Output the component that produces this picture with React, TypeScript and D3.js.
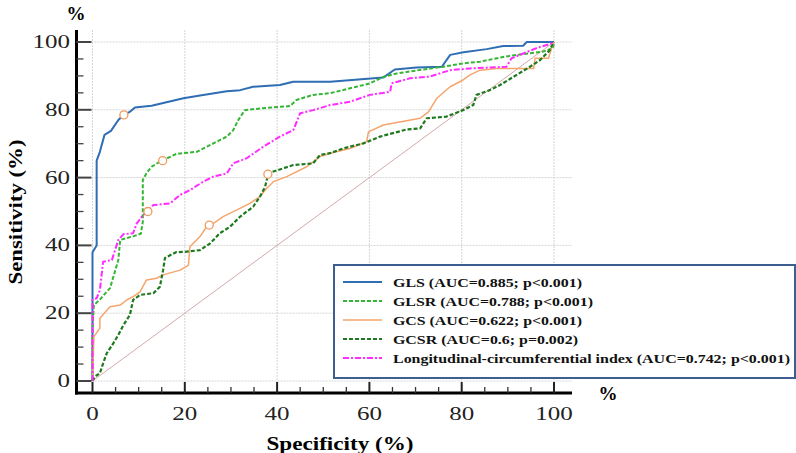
import React from "react";
import * as d3 from "d3";

type Pt = [number, number];

const GLS: Pt[] = [[0,0],[0,38],[0.9,40],[0.9,65],[1.6,67.6],[2.6,72.6],[4,73.8],[5.6,77],[6.9,78.7],[8.1,79.4],[9.2,80.7],[12.8,81.2],[19.7,83.4],[23.3,84.2],[29.1,85.5],[32,85.8],[34.8,86.8],[40.6,87.3],[43.5,88.3],[51.5,88.3],[63,89.5],[65.5,91.9],[70.2,92.5],[75.7,92.7],[77.5,96.2],[80.4,97],[85.4,97.9],[89,98.8],[93.3,98.9],[94.1,100],[100,100]];

const GLSR: Pt[] = [[0,0],[0,15.6],[0.3,22.4],[1.6,24],[3.8,27.4],[5.6,35.7],[6,41.6],[9.6,43],[10.5,43.5],[10.9,47],[10.9,59.3],[11.7,61.3],[12.8,63.2],[14.6,64.7],[18.2,67],[22.6,67.6],[26.2,70.1],[29.1,72.1],[30.5,74],[31.6,77],[33,79.9],[36.3,80.4],[42.8,81.1],[44.2,82.9],[47.8,84.4],[51.5,84.9],[57.2,86.8],[60.1,87.8],[63,89.7],[65.9,90.7],[71.7,91.9],[76,92.7],[80.3,93.7],[84,94.2],[89,95.6],[91.9,96.2],[97.7,97.2],[99.8,98.2],[100,100]];

const GCS: Pt[] = [[0,0],[0.3,13.1],[1.6,15.6],[1.6,18.5],[3.8,21.9],[6,22.4],[7.4,23.9],[8.8,24.9],[10.3,26.3],[11.7,29.8],[13.9,30.3],[15.3,31.3],[19,32.7],[20.8,34.2],[21.1,39.6],[23.3,42.6],[24.7,45.5],[26.2,46.5],[28.3,48.5],[31.2,50.4],[34.1,52.4],[36.3,54.4],[37.7,56.8],[39.2,58.8],[42.1,60.3],[46.4,63.2],[49.3,66.2],[51.5,67.2],[55.8,68.6],[59.4,70.6],[59.8,73.5],[63,75.5],[71,77.5],[72.8,79.4],[74.6,83.4],[77.5,86.8],[80.3,88.8],[81.8,90.3],[84,91.7],[87.6,92.2],[95.6,92.2],[95.9,95.2],[98.8,95.2],[99.5,98.2],[100,100]];

const GCSR: Pt[] = [[0,0],[0.5,1.3],[1.6,2.3],[2.3,5.2],[3.1,8.2],[4.5,11.1],[5.6,13.6],[6.7,16.5],[8.1,19.5],[8.8,23.9],[10.3,25.4],[13.2,25.9],[14.6,27.8],[15.3,32.7],[15.7,36.3],[18.1,38],[20,38.1],[23.3,38.6],[25.5,40.6],[27.6,43.6],[29.8,45.5],[32,48.5],[34.8,51.4],[36.3,54.4],[37.4,57.3],[38.1,61.3],[43.5,63.7],[47.8,64.2],[49.3,66.7],[51.5,67.2],[54.3,68.6],[58.7,70.1],[62.3,72.1],[68.1,74.2],[71,74.5],[72.4,77.5],[76.7,78],[80.3,79.9],[82.5,81.4],[83.2,84.4],[86.1,85.8],[88.3,87.3],[91.9,90.3],[94.8,92.7],[97,94.7],[99.1,97.6],[99.8,99.7],[100,100]];

const LCI: Pt[] = [[0,0],[0,24],[0.9,24.4],[1.6,26.8],[2.3,35.2],[4.2,35.7],[5.6,41.6],[6.7,43.3],[8.8,43.6],[9.6,46.5],[11,49],[12.1,50.4],[13.2,51.9],[16.8,52.4],[19,54.9],[21.1,56.3],[24,58.8],[26.2,60.3],[29.1,61.2],[30.5,64.2],[33.4,65.7],[37,69.1],[40.6,72.1],[43.5,74],[45,79],[47.8,79.9],[51.5,81.4],[55.8,82.4],[60.1,84.4],[64.5,85.3],[64.8,87.8],[68.8,89.3],[73.1,89.8],[77.5,91.7],[81.8,92.2],[89.7,92.7],[90.8,95.2],[92.6,96.2],[96.2,98.2],[99.8,99.7],[100,100]];

const CUTOFFS: Pt[] = [[6.8,78.5],[15.2,65],[12,50],[25.3,46],[38,61]];

const LABELS = [
  "GLS (AUC=0.885; p<0.001)",
  "GLSR (AUC=0.788; p<0.001)",
  "GCS (AUC=0.622; p<0.001)",
  "GCSR (AUC=0.6; p=0.002)",
  "Longitudinal-circumferential index (AUC=0.742; p<0.001)",
];

const MAJOR_TICKS = [0, 20, 40, 60, 80, 100];
const MINOR_TICKS = d3.range(0, 101, 5).filter((v) => v % 20 !== 0);

const SERIES = [
  { data: GLS, color: "#2f6db4", width: 2, dash: "" },
  { data: GLSR, color: "#35b535", width: 2, dash: "4,2" },
  { data: GCS, color: "#f5a56c", width: 1.5, dash: "" },
  { data: GCSR, color: "#1f7a1f", width: 2.2, dash: "4,2" },
  { data: LCI, color: "#ff2bff", width: 2, dash: "6,2,2,2" },
];
const LEGEND_LEN = [189, 200, 189, 185, 397];

export default function App() {
  const x = d3.scaleLinear().domain([0, 100]).range([92.5, 554]);
  const y = d3.scaleLinear().domain([0, 100]).range([381, 42]);
  const line = d3.line<Pt>().x((d) => x(d[0])).y((d) => y(d[1]));
  const serif = "'Liberation Serif', 'Times New Roman', serif";
  const axisX = 76.5;
  const axisY = 393;
  const right = 572;
  const top = 30;

  return (
    <svg width={796} height={453} style={{ position: "absolute", left: 0, top: 0, background: "#fff" }} fontFamily={serif}>
      <rect x={0} y={0} width={796} height={453} fill="#fff" />
      {/* grid */}
      {MAJOR_TICKS.map((t) => (
        <line key={"gx" + t} x1={x(t)} x2={x(t)} y1={top} y2={axisY} stroke="#d6d6d6" strokeWidth={1} strokeDasharray="2,1" />
      ))}
      {MAJOR_TICKS.map((t) => (
        <line key={"gy" + t} x1={axisX} x2={right} y1={y(t)} y2={y(t)} stroke="#d6d6d6" strokeWidth={1} strokeDasharray="2,1" />
      ))}
      {/* diagonal */}
      <line x1={x(0)} y1={y(0)} x2={x(100)} y2={y(100)} stroke="#d4a9a9" strokeWidth={1} />
      {/* curves */}
      {SERIES.map((s, i) => (
        <path key={"s" + i} d={line(s.data) || ""} fill="none" stroke={s.color} strokeWidth={s.width} strokeDasharray={s.dash} strokeLinejoin="round" />
      ))}
      {CUTOFFS.map((c, i) => (
        <circle key={"c" + i} cx={x(c[0])} cy={y(c[1])} r={4} fill="#fff" stroke="#f09a5e" strokeWidth={1.3} />
      ))}
      {/* axes */}
      <line x1={axisX} x2={axisX} y1={top} y2={axisY + 1.5} stroke="#000" strokeWidth={3} />
      <line x1={axisX - 1.5} x2={right} y1={axisY} y2={axisY} stroke="#000" strokeWidth={3} />
      {MAJOR_TICKS.map((t) => (
        <line key={"ty" + t} x1={axisX} x2={axisX + 15} y1={y(t)} y2={y(t)} stroke="#444" strokeWidth={2} />
      ))}
      {MINOR_TICKS.map((t) => (
        <line key={"tym" + t} x1={axisX} x2={axisX + 7} y1={y(t)} y2={y(t)} stroke="#444" strokeWidth={1.3} />
      ))}
      {MAJOR_TICKS.map((t) => (
        <line key={"tx" + t} x1={x(t)} x2={x(t)} y1={axisY} y2={axisY - 11} stroke="#222" strokeWidth={2} />
      ))}
      {MINOR_TICKS.map((t) => (
        <line key={"txm" + t} x1={x(t)} x2={x(t)} y1={axisY} y2={axisY - 6} stroke="#333" strokeWidth={1.3} />
      ))}
      {MAJOR_TICKS.map((t) => (
        <text key={"ly" + t} x={70} y={y(t) + 6} textAnchor="end" fontSize={18} fill="#222" textLength={String(t).length * 12.5} lengthAdjust="spacingAndGlyphs">{t}</text>
      ))}
      {MAJOR_TICKS.map((t) => (
        <text key={"lx" + t} x={x(t)} y={420} textAnchor="middle" fontSize={18} fill="#222" textLength={String(t).length * 12.5} lengthAdjust="spacingAndGlyphs">{t}</text>
      ))}
      {/* axis titles */}
      <text x={76} y={20} textAnchor="middle" fontSize={19} fontWeight="bold">%</text>
      <text x={608} y={400} textAnchor="middle" fontSize={19} fontWeight="bold">%</text>
      <text x={340} y={450} textAnchor="middle" fontSize={19} fontWeight="bold" textLength={147} lengthAdjust="spacingAndGlyphs">Specificity (%)</text>
      <text transform="translate(22,212) rotate(-90)" textAnchor="middle" fontSize={19} fontWeight="bold" textLength={145} lengthAdjust="spacingAndGlyphs">Sensitivity (%)</text>
      {/* legend */}
      <rect x={334} y={265} width={461} height={113} fill="#fff" stroke="#3d5f8f" strokeWidth={2} />
      {SERIES.map((s, i) => {
        const by = 287 + i * 19;
        return (
          <g key={"lg" + i}>
            <line x1={343} x2={382} y1={by - 5} y2={by - 5} stroke={s.color} strokeWidth={s.width} strokeDasharray={s.dash} />
            <text x={393} y={by} fontSize={13} fontWeight="bold" fill="#111" textLength={LEGEND_LEN[i]} lengthAdjust="spacingAndGlyphs">{LABELS[i]}</text>
          </g>
        );
      })}
    </svg>
  );
}
